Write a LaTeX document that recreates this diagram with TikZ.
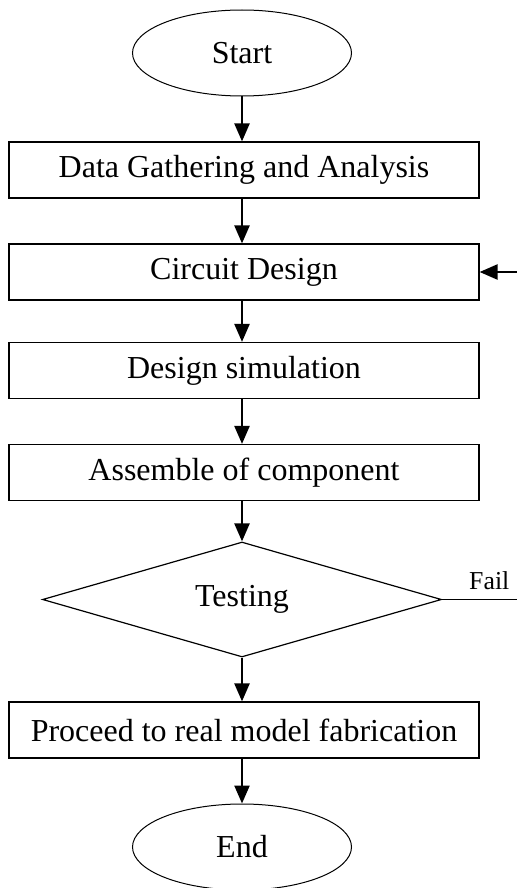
\documentclass[tikz,border=0pt]{standalone}
\usepackage{fontspec}
\setmainfont{Liberation Serif}
\usetikzlibrary{shapes.geometric,arrows.meta}
\begin{document}
\begin{tikzpicture}[x=0.5pt,y=-0.5pt,font=\fontsize{16}{18}\selectfont]
\tikzset{stepbox/.style={draw,line width=0.6pt,minimum width=235pt,minimum height=28pt,inner sep=0pt},
 term/.style={draw,ellipse,line width=0.5pt,minimum width=109.5pt,minimum height=43pt,inner sep=0pt},
 decide/.style={draw,diamond,aspect=3.5,line width=0.6pt,minimum width=199.5pt,minimum height=57.5pt,inner sep=0pt},
 arr/.style={line width=1.2pt,-{Triangle[length=9pt,width=7.5pt]}}}
\useasboundingbox (0,0) rectangle (517,888);
% terminals
\node[term] (start) at (242,53) {Start};
\node[term] (end) at (242,847) {End};
% steps
\node[stepbox] (gather) at (244,170) {Data Gathering and Analysis};
\node[stepbox] (circuit) at (244,272) {Circuit Design};
\node[stepbox] (sim) at (244,370.5) {Design simulation};
\node[stepbox] (assemble) at (244,472.5) {Assemble of component};
\node[decide] (test) at (242,599.5) {Testing};
\node[stepbox] (fab) at (244,730) {Proceed to real model fabrication};
% connectors
\draw[arr] (start.south) -- (start.south |- gather.north);
\draw[arr] (start.south |- gather.south) -- (start.south |- circuit.north);
\draw[arr] (start.south |- circuit.south) -- (start.south |- sim.north);
\draw[arr] (start.south |- sim.south) -- (start.south |- assemble.north);
\draw[arr] (start.south |- assemble.south) -- (test.north);
\draw[arr] (test.south) -- (test.south |- fab.north);
\draw[arr] (test.south |- fab.south) -- (end.north);
% loop back
\coordinate (loopin) at (517,272);
\coordinate (failend) at (517,599.5);
\draw[arr] (loopin) -- (circuit.east);
\draw[line width=0.6pt] (test.east) -- (failend) node[pos=0.63,above=1pt,font=\fontsize{12.9}{15}\selectfont] {Fail};
\end{tikzpicture}
\end{document}
